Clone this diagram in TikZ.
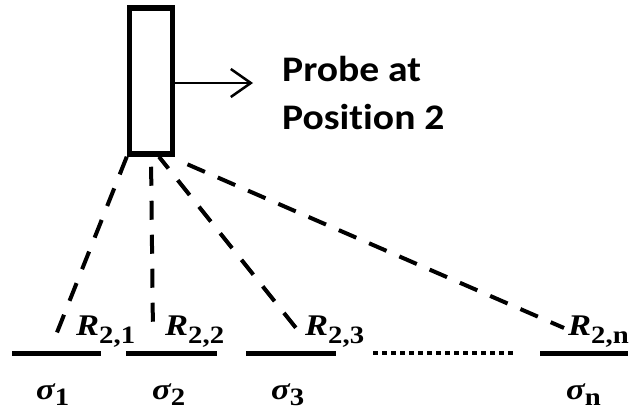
\documentclass[tikz,border=0pt]{standalone}
\usepackage{fontspec}
\setsansfont{Carlito}[Ligatures=NoCommon]
\newfontfamily\symfont{Liberation Serif}
\usetikzlibrary{arrows.meta}
\newcommand\bigsym[3]{\scalebox{1.15}[1]{{\symfont\bfseries\itshape\fontsize{30}{30}\selectfont #1}\raisebox{-#3}{\symfont\bfseries\fontsize{25}{25}\selectfont #2}}}
\tikzset{
  probebox/.style={draw, line width=5.5pt, minimum width=43pt, minimum height=146pt, inner sep=0pt},
  beam/.style={line width=4pt, dash pattern=on 19pt off 15pt},
  surface/.style={line width=5pt},
  lbl/.style={inner sep=0pt, anchor=base west},
  ptext/.style={font=\sffamily\bfseries\fontsize{36}{40}\selectfont, inner sep=0pt, anchor=base west}
}
\begin{document}
\begin{tikzpicture}[x=1pt,y=-1pt]
\useasboundingbox (0,0) rectangle (633,412);
\node[probebox] (probe) at (151,81) {};
\node[ptext] (txt1) at (282,82) {\scalebox{1.1}[1]{Probe at}};
\node[ptext] (txt2) at (282,130) {\scalebox{1.1}[1]{Position 2}};
\coordinate (arrowend) at (253,83);
\draw[line width=2.5pt, -{Straight Barb[length=20pt,width=28pt,line width=2.5pt]}] (probe.east |- arrowend) -- (arrowend);
% surfaces
\draw[surface] (12,353) -- (101,353);
\draw[surface] (126,353) -- (217,353);
\draw[surface] (246,353) -- (336,353);
\draw[line width=4.5pt, dash pattern=on 4.5pt off 4.5pt] (373,353) -- (515,353);
\draw[surface] (540,353) -- (628,353);
% labels
\node[lbl] (r1) at (76,335) {\bigsym{R}{2,1}{8pt}};
\node[lbl] (r2) at (165,335) {\bigsym{R}{2,2}{8pt}};
\node[lbl] (r3) at (305,335) {\bigsym{R}{2,3}{8pt}};
\node[lbl] (rn) at (568,335) {\bigsym{R}{2,n}{8pt}};
\node[lbl] (s1) at (36,399) {\bigsym{σ}{1}{6pt}};
\node[lbl] (s2) at (152,399) {\bigsym{σ}{2}{6pt}};
\node[lbl] (s3) at (271,399) {\bigsym{σ}{3}{6pt}};
\node[lbl] (sn) at (566,399) {\bigsym{σ}{n}{6pt}};
% beams
\coordinate (e1) at (56,335);
\coordinate (e2) at (153,335);
\coordinate (e3) at (300,333);
\coordinate (en) at (564,328);
\draw[beam, dash phase=0pt] (probe.south west) -- (e1);
\draw[beam, dash phase=24pt] (probe.south) -- (e2);
\draw[beam, dash phase=4pt] ([xshift=8pt]probe.south) -- (e3);
\draw[beam, dash pattern=on 19pt off 14pt, dash phase=24pt] ([xshift=4pt,yshift=-4pt]probe.south east) -- (en);
\end{tikzpicture}
\end{document}
